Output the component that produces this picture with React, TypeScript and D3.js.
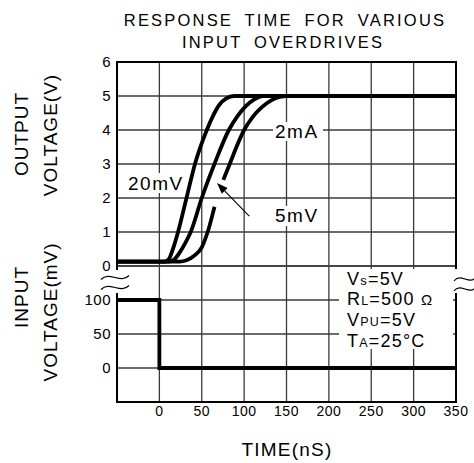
import React, { useLayoutEffect, useRef } from "react";
import * as d3 from "d3";

const W = 474;
const H = 463;

// Time axis (ns)
const timeGrid = [-50, 0, 50, 100, 150, 200, 250, 300, 350];
const timeLabels = [0, 50, 100, 150, 200, 250, 300, 350];
// Output voltage (V)
const outGrid = [0, 1, 2, 3, 4, 5, 6];
const outLabels = [0, 1, 2, 3, 4, 5, 6];
// Input voltage (mV)
const inGrid = [-50, 0, 50, 100, 150];
const inLabels = [0, 50, 100];

// Output response curves: [time ns, volts]
const curve20mV: [number, number][] = [
  [-50, 0.13], [6, 0.13], [11, 0.2], [16, 0.5], [22, 1.0], [32, 2.0], [42, 3.0],
  [56, 4.0], [63, 4.4], [71, 4.75], [79, 4.93], [88, 5.0], [350, 5.0],
];
const curveMid: [number, number][] = [
  [-50, 0.13], [11, 0.13], [17, 0.18], [24, 0.4], [30, 0.65], [37, 1.0], [50, 2.0],
  [65, 3.0], [82, 4.0], [92, 4.4], [102, 4.7], [112, 4.9], [122, 5.0], [350, 5.0],
];
const curve5mV: [number, number][] = [
  [-50, 0.13], [24, 0.13], [32, 0.17], [42, 0.32], [50, 0.55], [57, 1.0], [68, 2.0],
  [83, 3.0], [100, 4.0], [110, 4.38], [120, 4.65], [132, 4.87], [142, 4.97], [150, 5.0], [350, 5.0],
];
// Input step: [time ns, mV]
const inputStep: [number, number][] = [
  [-50, 100], [0, 100], [0, 0], [350, 0],
];
// gap of the dashed 5mV curve, in volts
const dashGapV = [1.74, 2.53];

// arrow annotation [time, volts]
const arrowFrom: [number, number] = [106, 1.47];
const arrowTo: [number, number] = [68, 2.44];

const FONT = "'Liberation Sans', Arial, sans-serif";

export default function App() {
  const x = d3.scaleLinear().domain([-50, 350]).range([117, 456]);
  const yOut = d3.scaleLinear().domain([0, 6]).range([266, 62]);
  const yIn = d3.scaleLinear().domain([-50, 150]).range([402, 266]);

  const outLine = d3
    .line<[number, number]>()
    .x((d) => x(d[0]))
    .y((d) => yOut(d[1]))
    .curve(d3.curveMonotoneX);
  const inLine = d3
    .line<[number, number]>()
    .x((d) => x(d[0]))
    .y((d) => yIn(d[1]));

  const dashRef = useRef<SVGPathElement>(null);

  useLayoutEffect(() => {
    const p = dashRef.current;
    if (!p) return;
    const total = p.getTotalLength();
    const findLen = (yt: number) => {
      let lo = 0;
      let hi = total;
      for (let i = 0; i < 40; i++) {
        const mid = (lo + hi) / 2;
        if (p.getPointAtLength(mid).y > yt) lo = mid;
        else hi = mid;
      }
      return lo;
    };
    const l1 = findLen(yOut(dashGapV[0]));
    const l2 = findLen(yOut(dashGapV[1]));
    p.setAttribute("stroke-dasharray", `${l1} ${l2 - l1} ${total}`);
  }, []);

  const left = x(-50);
  const right = x(350);
  const top = yOut(6);
  const bottom = yIn(-50);

  const tilde = (cx: number, cy: number, w: number) =>
    `M${cx - w / 2},${cy + 2} C${cx - w / 2 + w * 0.3},${cy - 7} ${cx - w / 2 + w * 0.7},${cy + 7} ${cx + w / 2},${cy - 2}`;

  const [ax1, ay1] = [x(arrowFrom[0]), yOut(arrowFrom[1])];
  const [ax2, ay2] = [x(arrowTo[0]), yOut(arrowTo[1])];
  const ang = Math.atan2(ay2 - ay1, ax2 - ax1);
  const ahL = 11;
  const ahW = 4;
  const bx = ax2 - ahL * Math.cos(ang);
  const by = ay2 - ahL * Math.sin(ang);
  const head = `M${ax2},${ay2} L${bx + ahW * Math.sin(ang)},${by - ahW * Math.cos(ang)} L${bx - ahW * Math.sin(ang)},${by + ahW * Math.cos(ang)} Z`;

  const gridColor = "#3a3a3a";

  return (
    <svg width={W} height={H} style={{ display: "block", position: "absolute", left: 0, top: 0 }} fontFamily={FONT}>
      <rect width={W} height={H} fill="#fff" />
      {/* Title */}
      <text x={285} y={26} textAnchor="middle" fontSize={16.5} letterSpacing={2.2} wordSpacing={5}>
        RESPONSE TIME FOR VARIOUS
      </text>
      <text x={283} y={48} textAnchor="middle" fontSize={16.5} letterSpacing={2.2} wordSpacing={5}>
        INPUT OVERDRIVES
      </text>

      {/* grid */}
      <g stroke={gridColor} strokeWidth={1.3}>
        {timeGrid.map((t) => (
          <line key={"v" + t} x1={x(t)} x2={x(t)} y1={top} y2={bottom} />
        ))}
        {outGrid.map((v) => (
          <line key={"o" + v} x1={left} x2={right} y1={yOut(v)} y2={yOut(v)} />
        ))}
        {inGrid.map((v) => (
          <line key={"i" + v} x1={left} x2={right} y1={yIn(v)} y2={yIn(v)} />
        ))}
      </g>
      {/* border */}
      <rect x={left} y={top} width={right - left} height={bottom - top} fill="none" stroke="#000" strokeWidth={2} />

      {/* break marks */}
      <rect x={left - 4} y={270} width={8} height={23} fill="#fff" />
      <rect x={right - 4} y={269} width={8} height={24} fill="#fff" />
      <g fill="none" stroke="#000" strokeWidth={1.2}>
        <path d={tilde(left - 2, 277.5, 28)} />
        <path d={tilde(left - 2, 287.5, 28)} />
        <path d={tilde(right + 9, 279, 22)} />
        <path d={tilde(right + 9, 289, 22)} />
      </g>

      {/* label backgrounds */}
      <rect x={126} y={173} width={63} height={20} fill="#fff" />
      <rect x={273} y={122} width={50} height={19} fill="#fff" />
      <rect x={273} y={206} width={50} height={20} fill="#fff" />
      <rect x={339} y={269} width={114} height={80} fill="#fff" />

      {/* curves */}
      <g fill="none" stroke="#000" strokeWidth={3.8} strokeLinejoin="round">
        <path d={outLine(curve20mV) || ""} />
        <path d={outLine(curveMid) || ""} />
        <path ref={dashRef} d={outLine(curve5mV) || ""} />
        <path d={inLine(inputStep) || ""} strokeLinejoin="miter" />
      </g>

      {/* arrow */}
      <line x1={ax1} y1={ay1} x2={bx} y2={by} stroke="#000" strokeWidth={1.1} />
      <path d={head} fill="#000" />

      {/* curve labels */}
      <g fontSize={19} letterSpacing={1.5}>
        <text x={128} y={190}>20mV</text>
        <text x={275} y={138}>2mA</text>
        <text x={275} y={222}>5mV</text>
      </g>

      {/* conditions */}
      <g fontSize={18} letterSpacing={1.2}>
        <text x={347} y={285}>
          V<tspan fontSize={13}>s</tspan>=5V
        </text>
        <text x={347} y={305}>
          R<tspan fontSize={12.5}>L</tspan>=500 <tspan fontSize={15}>Ω</tspan>
        </text>
        <text x={347} y={326}>
          V<tspan fontSize={12.5}>PU</tspan>=5V
        </text>
        <text x={347} y={347}>
          T<tspan fontSize={12.5}>A</tspan>=25°C
        </text>
      </g>

      {/* y tick labels */}
      <g fontSize={15} textAnchor="end" letterSpacing={0.5}>
        {outLabels.map((v) => (
          <text key={"ol" + v} x={111} y={yOut(v)} dy="0.36em">{v}</text>
        ))}
        {inLabels.map((v) => (
          <text key={"il" + v} x={111} y={yIn(v)} dy="0.36em">{v}</text>
        ))}
      </g>
      {/* x tick labels */}
      <g fontSize={14} textAnchor="middle" letterSpacing={0.5}>
        {timeLabels.map((t) => (
          <text key={"tl" + t} x={x(t)} y={416}>{t}</text>
        ))}
      </g>

      {/* axis titles */}
      <text x={287} y={456} textAnchor="middle" fontSize={19} letterSpacing={1.2}>TIME(nS)</text>
      <text transform="translate(28,134) rotate(-90)" textAnchor="middle" fontSize={19} letterSpacing={1}>OUTPUT</text>
      <text transform="translate(57,135) rotate(-90)" textAnchor="middle" fontSize={19} letterSpacing={1}>VOLTAGE(V)</text>
      <text transform="translate(28,297) rotate(-90)" textAnchor="middle" fontSize={19} letterSpacing={1}>INPUT</text>
      <text transform="translate(57,312) rotate(-90)" textAnchor="middle" fontSize={19} letterSpacing={1}>VOLTAGE(mV)</text>
    </svg>
  );
}
